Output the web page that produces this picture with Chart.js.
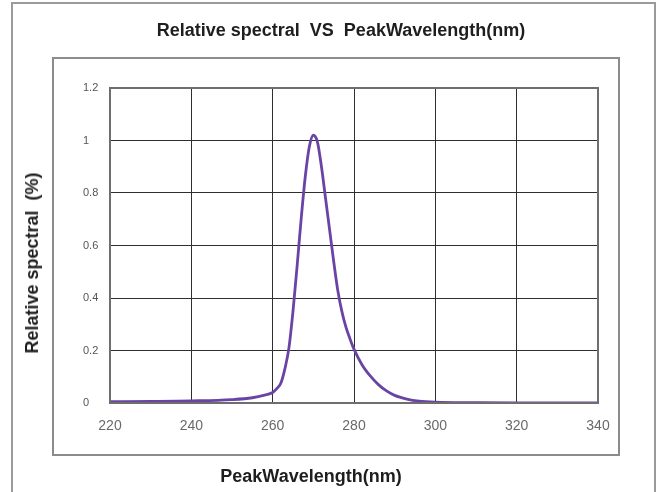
<!DOCTYPE html>
<html>
<head>
<meta charset="utf-8">
<title>Relative spectral VS PeakWavelength(nm)</title>
<script src="https://cdn.jsdelivr.net/npm/chart.js@4.4.1/dist/chart.umd.min.js"></script>
<style>
    html, body { margin: 0; padding: 0; background: #fff; overflow: hidden; }
    #wrap { position: relative; width: 662px; height: 492px; }
    .frame { position: absolute; box-sizing: border-box; }
    #outer { left: 11px; top: 2px; width: 645px; height: 510px; border: 2px solid #9a9a9a; }
    #inner { left: 52px; top: 57px; width: 568px; height: 399px; border: 2px solid #8c8c8c; }
    canvas { position: absolute; left: 0; top: 0; }
    .label { position: absolute; font-family: "Liberation Sans", Arial, sans-serif; font-weight: bold; font-size: 18px; color: #1e1e1e; white-space: pre; line-height: 22px; }
    #title { left: 341px; top: 19px; transform: translateX(-50%); }
    #xtitle { left: 311px; top: 465px; transform: translateX(-50%); }
    #ytitle { left: 32px; top: 263px; transform: translate(-50%, -50%) rotate(-90deg); }
</style>
</head>
<body>
<div id="wrap">
    <div class="frame" id="outer"></div>
    <div class="frame" id="inner"></div>
    <canvas id="spectrum" width="662" height="492"></canvas>
    <div class="label" id="title">Relative spectral  VS  PeakWavelength(nm)</div>
    <div class="label" id="ytitle">Relative spectral  (%)</div>
    <div class="label" id="xtitle">PeakWavelength(nm)</div>
</div>
<script>
// wavelength (nm) and relative intensity
const wavelengths = [220, 230, 240, 250, 255, 258, 260, 261, 262, 263, 264, 265, 266, 267, 268, 269, 270, 271, 272, 273, 274, 275, 276, 277, 278, 279, 280, 282, 284, 286, 288, 290, 293, 296, 300, 310, 320, 330, 340];
const relative = [0.005, 0.006, 0.008, 0.013, 0.02, 0.03, 0.04, 0.055, 0.075, 0.13, 0.21, 0.35, 0.52, 0.7, 0.86, 0.975, 1.02, 0.995, 0.9, 0.78, 0.66, 0.54, 0.43, 0.35, 0.29, 0.245, 0.205, 0.145, 0.103, 0.07, 0.046, 0.029, 0.015, 0.007, 0.003, 0.001, 0.0, 0.0, 0.0];

const xTicks = [220, 240, 260, 280, 300, 320, 340];
const yTicks = [0, 0.2, 0.4, 0.6, 0.8, 1, 1.2];
const yTickLabels = ['0', '0.2', '0.4', '0.6', '0.8', '1', '1.2'];

// gray box round the plot area
const plotBox = {
    id: 'plotBox',
    afterDatasetsDraw(chart) {
        const { ctx, chartArea: a } = chart;
        ctx.save();
        ctx.strokeStyle = '#6e6e6e';
        ctx.lineWidth = 2;
        ctx.strokeRect(a.left, a.top, a.right - a.left, a.bottom - a.top);
        ctx.restore();
    }
};

const ctx = document.getElementById('spectrum').getContext('2d');

new Chart(ctx, {
    type: 'line',
    data: {
        datasets: [{
            data: wavelengths.map((w, i) => ({ x: w, y: relative[i] })),
            borderColor: '#6a44a4',
            borderWidth: 2.8,
            pointRadius: 0,
            fill: false,
            cubicInterpolationMode: 'monotone'
        }]
    },
    options: {
        responsive: false,
        animation: false,
        layout: {
            padding: { left: 83, top: 88, right: 64, bottom: 0 }
        },
        plugins: {
            legend: { display: false },
            title: { display: false },
            tooltip: { enabled: false }
        },
        scales: {
            x: {
                type: 'linear',
                min: 220,
                max: 340,
                afterBuildTicks: (scale) => { scale.ticks = xTicks.map(v => ({ value: v })); },
                afterFit: (scale) => { scale.height = 89; },
                ticks: {
                    padding: 15,
                    color: '#6a6a6a',
                    font: { family: 'Liberation Sans', size: 14 }
                },
                grid: { color: '#2e2e2e', lineWidth: 1, drawTicks: false },
                border: { display: false }
            },
            y: {
                min: 0,
                max: 1.2,
                afterBuildTicks: (scale) => { scale.ticks = yTicks.map(v => ({ value: v })); },
                afterFit: (scale) => { scale.width = 27; },
                ticks: {
                    crossAlign: 'far',
                    padding: 0,
                    color: '#555',
                    font: { family: 'Liberation Sans', size: 11 },
                    callback: (value, index) => yTickLabels[index]
                },
                grid: { color: '#2e2e2e', lineWidth: 1, drawTicks: false },
                border: { display: false }
            }
        }
    },
    plugins: [plotBox]
});
</script>
</body>
</html>
